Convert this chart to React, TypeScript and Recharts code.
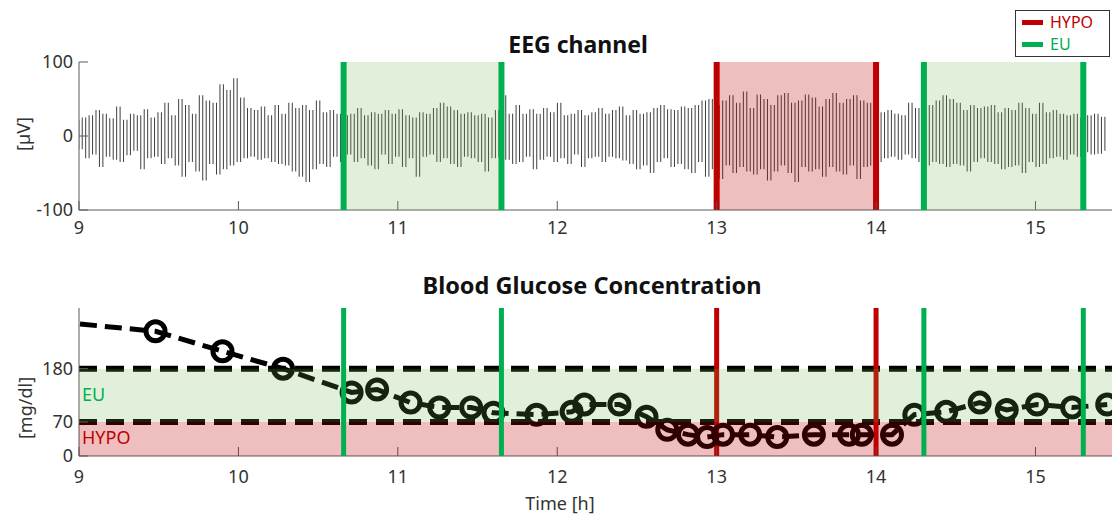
import { ComposedChart, LineChart, Bar, Line, XAxis, YAxis, ReferenceArea, ReferenceLine } from 'recharts';

const FONT = '"Noto Sans", "Open Sans", sans-serif';
const X_MIN = 9;
const X_MAX = 15.48;
const hourTicks = [9, 10, 11, 12, 13, 14, 15];

// EEG samples in µV, one every EEG_STEP hours starting at 9:00
const EEG_STEP = 0.0216;
const eegMicroVolts = [
  22, -18, 25, -30, 28, -25, 35, -42, 30, -28, 24, -32, 40, -35, 22, -26, 30, -20, 28, -45, 36, -30, 25,
  -28, 32, -38, 45, -30, 28, -40, 50, -55, 42, -35, 30, -48, 55, -60, 48, -38, 45, -52, 70, -45, 62, -40,
  78, -35, 52, -30, 38, -28, 35, -32, 40, -30, 28, -35, 42, -38, 30, -40, 45, -48, 38, -55, 42, -62, 35,
  -45, 48, -38, 32, -42, 35, -28, 30, -35, 28, -25, 30, -35, 38, -30, 28, -40, 32, -45, 30, -25, 35, -38,
  30, -28, 36, -42, 28, -30, 25, -55, 32, -28, 30, -25, 38, -35, 45, -30, 40, -38, 35, -42, 30, -28, 32,
  -30, 28, -35, 30, -48, 25, -30, 35, -28, 55, -32, 30, -38, 42, -35, 30, -28, 36, -45, 30, -32, 38, -28,
  32, -35, 45, -30, 28, -38, 30, -25, 35, -42, 28, -30, 32, -28, 38, -35, 30, -28, 35, -30, 40, -33, 28,
  -38, 35, -45, 30, -40, 32, -50, 38, -35, 42, -30, 36, -42, 35, -38, 40, -45, 38, -50, 42, -35, 48, -55,
  50, -45, 42, -58, 48, -40, 55, -50, 45, -42, 60, -48, 38, -52, 56, -45, 50, -60, 42, -48, 55, -40, 58,
  -50, 45, -62, 48, -42, 56, -48, 52, -45, 40, -55, 50, -42, 58, -48, 45, -52, 50, -40, 55, -58, 48, -42,
  45, -40, 38, -35, 32, -30, 35, -28, 30, -32, 28, -25, 45, -30, 38, -35, 30, -40, 42, -35, 48, -38, 55,
  -42, 50, -38, 45, -40, 35, -48, 42, -35, 38, -30, 40, -35, 42, -38, 32, -45, 38, -42, 35, -40, 45, -50,
  38, -35, 30, -42, 45, -38, 32, -30, 35, -28, 30, -32, 28, -25, 30, -28, 25, -22, 28, -25, 30, -24, 26, -20,
];

// blood glucose readings (hours, mg/dl)
const glucoseTimes = [
  8.85, 9.48, 9.9, 10.28, 10.71, 10.87, 11.08, 11.26, 11.46, 11.6, 11.87, 12.09, 12.17, 12.39, 12.56, 12.69,
  12.82, 12.94, 13.04, 13.21, 13.38, 13.61, 13.83, 13.91, 14.1, 14.24, 14.44, 14.65, 14.82, 15.01, 15.23, 15.45,
];
const glucoseValues = [
  277, 257, 216, 180, 131, 137, 110, 100, 100, 89, 85, 91, 106, 106, 81, 54,
  44, 39, 44, 44, 39, 44, 44, 44, 44, 85, 91, 110, 95, 106, 100, 106,
];

const HYPO_LIMIT = 70;
const EU_LIMIT = 180;

// labelled windows [start, end] in hours
const euWindows = [[10.66, 11.65], [14.3, 15.3]];
const hypoWindows = [[13.0, 14.0]];

const EU_COLOR = '#00B050';
const HYPO_COLOR = '#C00000';
const EU_SHADE = '#70AD47';
const AXIS = '#5a5a5a';
const tickStyle = { fontSize: 18, fill: '#333', fontFamily: FONT };

// each trace stroke runs from one sample to the next, drawn as a vertical range bar
const eegStrokes = eegMicroVolts.slice(0, -1).map((v, i) => {
  const next = eegMicroVolts[i + 1];
  return { t: X_MIN + i * EEG_STEP, span: [Math.min(v, next), Math.max(v, next)] };
});
const glucoseData = glucoseTimes.map((t, i) => ({ t, bg: glucoseValues[i] }));

// red markers sit under the shading, green ones on top of it
const hypoMarkers = (width: number) =>
  hypoWindows.flat().map((x) => (
    <ReferenceLine key={`h-${x}`} x={x} stroke={HYPO_COLOR} strokeWidth={width} zIndex={450} />
  ));
const euMarkers = (width: number) =>
  euWindows.flat().map((x) => (
    <ReferenceLine key={`e-${x}`} x={x} stroke={EU_COLOR} strokeWidth={width} zIndex={1600} />
  ));

const frameAxes = (yDomain: number[], yTicks: number[]) => [
  <XAxis
    key="top"
    xAxisId="top"
    orientation="top"
    type="number"
    domain={[X_MIN, X_MAX]}
    ticks={hourTicks}
    allowDataOverflow
    height={0}
    tickSize={-9}
    tickFormatter={() => ''}
    stroke={AXIS}
  />,
  <YAxis
    key="right"
    yAxisId="r"
    orientation="right"
    type="number"
    domain={yDomain}
    ticks={yTicks}
    allowDataOverflow
    width={0}
    tickSize={-9}
    tickFormatter={() => ''}
    stroke={AXIS}
  />,
];

const EegPanel = () => (
  <ComposedChart width={1115} height={240} data={eegStrokes} margin={{ top: 62, right: 3, bottom: 0, left: 0 }}>
    <XAxis
      dataKey="t"
      type="number"
      domain={[X_MIN, X_MAX]}
      ticks={hourTicks}
      allowDataOverflow
      height={30}
      tickSize={-9}
      tickMargin={20}
      stroke={AXIS}
      tick={tickStyle}
    />
    <YAxis
      type="number"
      domain={[-100, 100]}
      ticks={[-100, 0, 100]}
      width={79}
      tickSize={-9}
      tickMargin={15}
      stroke={AXIS}
      tick={tickStyle}
    />
    {frameAxes([-100, 100], [-100, 0, 100])}
    <Bar dataKey="span" fill="#3f3f3f" barSize={1} isAnimationActive={false} />
    {hypoMarkers(6)}
    {euWindows.map(([a, b]) => (
      <ReferenceArea key={`eu-${a}`} x1={a} x2={b} fill={EU_SHADE} fillOpacity={0.2} zIndex={1500} />
    ))}
    {hypoWindows.map(([a, b]) => (
      <ReferenceArea key={`hy-${a}`} x1={a} x2={b} fill={HYPO_COLOR} fillOpacity={0.25} zIndex={1500} />
    ))}
    {euMarkers(6)}
  </ComposedChart>
);

const GlucosePanel = () => (
  <LineChart width={1115} height={276} data={glucoseData} margin={{ top: 68, right: 3, bottom: 0, left: 0 }}>
    <XAxis
      dataKey="t"
      type="number"
      domain={[X_MIN, X_MAX]}
      ticks={hourTicks}
      allowDataOverflow
      height={60}
      tickSize={-9}
      tickMargin={23}
      stroke={AXIS}
      tick={tickStyle}
    />
    <YAxis
      type="number"
      domain={[0, 305]}
      ticks={[0, HYPO_LIMIT, EU_LIMIT]}
      allowDataOverflow
      width={79}
      tickSize={-9}
      tickMargin={15}
      stroke={AXIS}
      tick={tickStyle}
    />
    {frameAxes([0, 305], [0, HYPO_LIMIT, EU_LIMIT])}
    {[HYPO_LIMIT, EU_LIMIT].map((y) => (
      <ReferenceLine key={`th-${y}`} y={y} stroke="#000" strokeWidth={6} strokeDasharray="18 9" zIndex={350} />
    ))}
    <Line
      dataKey="bg"
      stroke="#000"
      strokeWidth={5}
      strokeDasharray="17 8"
      dot={{ r: 9.5, stroke: '#000', strokeWidth: 5, fill: 'none', strokeDasharray: 'none' }}
      isAnimationActive={false}
    />
    {hypoMarkers(5)}
    <ReferenceArea y1={HYPO_LIMIT} y2={EU_LIMIT} fill={EU_SHADE} fillOpacity={0.2} zIndex={1500} />
    <ReferenceArea y1={0} y2={HYPO_LIMIT} fill={HYPO_COLOR} fillOpacity={0.25} zIndex={1500} />
    {euMarkers(5)}
  </LineChart>
);

type CaptionProps = {
  x: number;
  y: number;
  text: string;
  size?: number;
  weight?: number;
  color?: string;
  rotate?: boolean;
  left?: boolean;
};

const Caption = ({ x, y, text, size = 18, weight = 400, color = '#333', rotate, left }: CaptionProps) => (
  <div
    style={{
      position: 'absolute',
      left: x,
      top: y,
      transform: `translate(${left ? '0' : '-50%'}, -50%)${rotate ? ' rotate(-90deg)' : ''}`,
      fontFamily: FONT,
      fontSize: size,
      fontWeight: weight,
      color,
      lineHeight: 1,
      whiteSpace: 'nowrap',
    }}
  >
    {text}
  </div>
);

const legendItems = [
  { name: 'HYPO', color: HYPO_COLOR },
  { name: 'EU', color: EU_COLOR },
];

const LegendBox = () => (
  <div
    style={{
      position: 'absolute',
      left: 1015,
      top: 10,
      width: 95,
      height: 47,
      border: '1.5px solid #333',
      boxSizing: 'border-box',
      background: '#fff',
      fontFamily: FONT,
      fontSize: 16,
    }}
  >
    {legendItems.map((item, i) => (
      <div
        key={item.name}
        style={{ position: 'absolute', left: 6, top: 0 + i * 22, display: 'flex', alignItems: 'center', height: 22 }}
      >
        <div style={{ width: 21, height: 5, background: item.color, marginRight: 7 }} />
        <span style={{ color: item.color, lineHeight: '22px' }}>{item.name}</span>
      </div>
    ))}
  </div>
);

export default function App() {
  return (
    <div style={{ position: 'absolute', left: 0, top: 0, width: 1115, height: 516, background: '#fff', overflow: 'hidden' }}>
      <div style={{ position: 'absolute', left: 0, top: 0 }}>
        <EegPanel />
      </div>
      <div style={{ position: 'absolute', left: 0, top: 240 }}>
        <GlucosePanel />
      </div>
      <Caption x={578} y={44} text="EEG channel" size={23} weight={700} color="#111" />
      <Caption x={592} y={286} text="Blood Glucose Concentration" size={23.5} weight={700} color="#111" />
      <Caption x={23} y={134} text="[µV]" rotate />
      <Caption x={25} y={408} text="[mg/dl]" rotate />
      <Caption x={560} y={503} text="Time [h]" />
      <Caption x={82} y={394} text="EU" color={EU_COLOR} left />
      <Caption x={82} y={437} text="HYPO" color={HYPO_COLOR} left />
      <LegendBox />
    </div>
  );
}
